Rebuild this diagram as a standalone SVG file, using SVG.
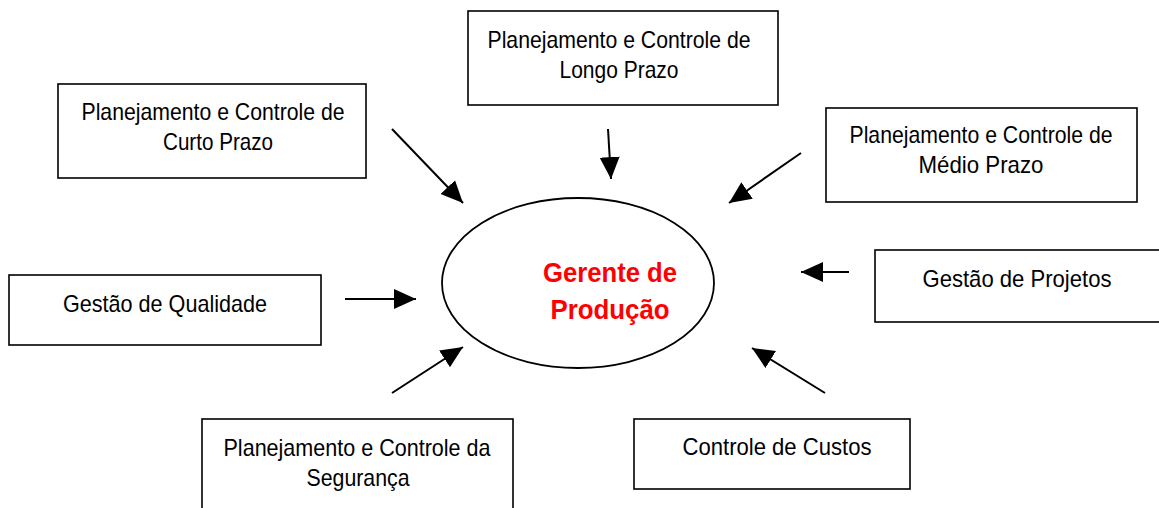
<svg xmlns="http://www.w3.org/2000/svg" width="1159" height="508" viewBox="0 0 1159 508">
<style>
.box{fill:#fff;stroke:#000;stroke-width:1.6}
.t{font-family:"Liberation Sans",Arial,sans-serif;font-size:24px;fill:#000;text-anchor:middle}
.c{stroke:#000;stroke-width:2;fill:none;marker-end:url(#ah)}
.red{font-family:"Liberation Sans",Arial,sans-serif;font-size:28px;font-weight:bold;fill:#ff0000;text-anchor:middle}
</style>
<defs>
<marker id="ah" markerUnits="userSpaceOnUse" markerWidth="23" markerHeight="22" refX="22" refY="11" orient="auto">
<path d="M0,1 L22,11 L0,21 z" fill="#000"/>
</marker>
</defs>
<rect width="1159" height="508" fill="#fff"/>
<g id="longo">
<rect class="box" x="468" y="11" width="310" height="94"/>
<text class="t" x="619" y="48" textLength="263" lengthAdjust="spacingAndGlyphs">Planejamento e Controle de</text>
<text class="t" x="619" y="78" textLength="119" lengthAdjust="spacingAndGlyphs">Longo Prazo</text>
</g>
<g id="curto">
<rect class="box" x="58" y="84" width="308" height="94"/>
<text class="t" x="213" y="120" textLength="263" lengthAdjust="spacingAndGlyphs">Planejamento e Controle de</text>
<text class="t" x="218" y="150" textLength="110" lengthAdjust="spacingAndGlyphs">Curto Prazo</text>
</g>
<g id="medio">
<rect class="box" x="826" y="108" width="311" height="94"/>
<text class="t" x="981" y="143" textLength="263" lengthAdjust="spacingAndGlyphs">Planejamento e Controle de</text>
<text class="t" x="981" y="173" textLength="125" lengthAdjust="spacingAndGlyphs">Médio Prazo</text>
</g>
<g id="qualidade">
<rect class="box" x="9" y="275" width="312" height="70"/>
<text class="t" x="165" y="312" textLength="204" lengthAdjust="spacingAndGlyphs">Gestão de Qualidade</text>
</g>
<g id="projetos">
<rect class="box" x="875" y="250" width="290" height="72"/>
<text class="t" x="1017" y="287" textLength="189" lengthAdjust="spacingAndGlyphs">Gestão de Projetos</text>
</g>
<g id="seguranca">
<rect class="box" x="202" y="419" width="311" height="100"/>
<text class="t" x="357" y="456" textLength="267" lengthAdjust="spacingAndGlyphs">Planejamento e Controle da</text>
<text class="t" x="358" y="486" textLength="103" lengthAdjust="spacingAndGlyphs">Segurança</text>
</g>
<g id="custos">
<rect class="box" x="634" y="419" width="276" height="70"/>
<text class="t" x="777" y="455" textLength="189" lengthAdjust="spacingAndGlyphs">Controle de Custos</text>
</g>
<g id="gerente">
<ellipse cx="578" cy="283" rx="136" ry="85" fill="#fff" stroke="#000" stroke-width="1.8"/>
<text class="red" x="610" y="282" textLength="134" lengthAdjust="spacingAndGlyphs">Gerente de</text>
<text class="red" x="610" y="319" textLength="119" lengthAdjust="spacingAndGlyphs">Produção</text>
</g>
<g id="connectors">
<line class="c" x1="392" y1="129" x2="463" y2="203"/>
<line class="c" x1="608" y1="129" x2="611" y2="179"/>
<line class="c" x1="801" y1="153" x2="729" y2="203"/>
<line class="c" x1="345" y1="299" x2="416" y2="299"/>
<line class="c" x1="849" y1="272" x2="801" y2="272"/>
<line class="c" x1="392" y1="393" x2="463" y2="347"/>
<line class="c" x1="825" y1="393" x2="752" y2="348"/>
</g>
</svg>
